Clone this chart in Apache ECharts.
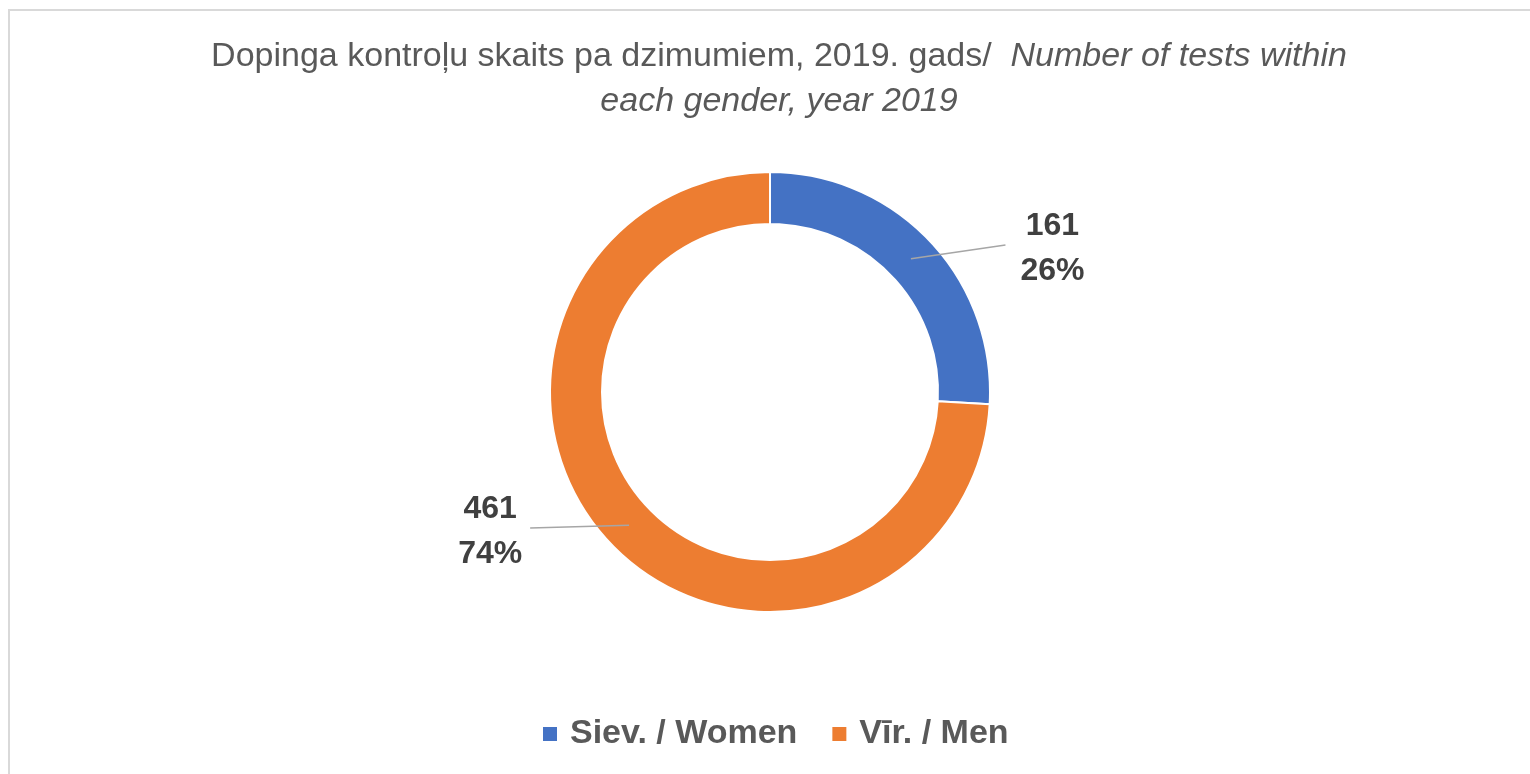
<!DOCTYPE html>
<html>
<head>
<meta charset="utf-8">
<script src="https://cdn.jsdelivr.net/npm/echarts@6/dist/echarts.min.js"></script>
<style>
  html, body { margin: 0; padding: 0; background: #fff; }
  #chart { position: absolute; left: 0; top: 0; width: 1530px; height: 774px; }
  /* frame of the original chart area */
  #frame { position: absolute; left: 8px; top: 9px; width: 1560px; height: 800px;
           border-top: 2px solid #d9d9d9; border-left: 2px solid #d9d9d9; pointer-events: none; }
</style>
</head>
<body>
<div id="chart"></div>
<div id="frame"></div>
<script>
// data
const categories = ['Siev. / Women', 'Vīr. / Men']
const testCounts = [161, 461]
const colors = ['#4472C4', '#ED7D31']

// per slice label line tweaks (women go up-right, men almost flat to the left)
const lineLen = [20, 4]
const lineLen2 = [80, 96]
const labelGap = [15, 8]

const font = 'Liberation Sans, Arial, sans-serif'

const ringData = categories.map((name, i) => ({
    name: name,
    value: testCounts[i],
    itemStyle: { color: colors[i] }
}))

const labelData = categories.map((name, i) => ({
    name: name,
    value: testCounts[i],
    label: { distanceToLabelLine: labelGap[i] },
    labelLine: { length: lineLen[i], length2: lineLen2[i] }
}))

const chart = echarts.init(document.getElementById('chart'))

const option = {
    animation: false,
    color: colors,
    title: {
        left: 779, // title sits a bit right of the middle
        textAlign: 'center',
        top: 34,
        padding: 0,
        text: '{n|Dopinga kontroļu skaits pa dzimumiem, 2019. gads/  }{i|Number of tests within}\n{i|each gender, year 2019}',
        textStyle: {
            fontWeight: 'normal',
            rich: {
                n: { fontFamily: font, fontSize: 34, fontWeight: 'normal', color: '#595959', lineHeight: 45 },
                i: { fontFamily: font, fontSize: 34, fontWeight: 'normal', color: '#595959', fontStyle: 'italic', lineHeight: 45 }
            }
        }
    },
    legend: {
        left: 543,
        top: 717,
        padding: 0,
        icon: 'rect',
        itemWidth: 14,
        itemHeight: 14,
        itemGap: 35,
        data: categories,
        itemStyle: { borderWidth: 0 },
        textStyle: {
            fontFamily: font,
            fontSize: 34,
            fontWeight: 'bold',
            color: '#595959',
            padding: [0, 0, 0, 8]
        }
    },
    series: [
        {
            // the ring itself
            type: 'pie',
            z: 2,
            center: [770, 392],
            radius: [168, 220],
            startAngle: 90,
            clockwise: true,
            silent: true,
            label: { show: false },
            labelLine: { show: false },
            itemStyle: { borderColor: '#fff', borderWidth: 2 },
            data: ringData
        },
        {
            // invisible pie up to the middle of the ring, only carries the labels
            type: 'pie',
            z: 5,
            center: [770, 392],
            radius: [0, 194],
            startAngle: 90,
            clockwise: true,
            silent: true,
            itemStyle: { color: 'rgba(0,0,0,0)' },
            label: {
                show: true,
                position: 'outside',
                padding: [8, 0, 0, 0],
                formatter: function (p) {
                    return '{a|' + p.value + '}\n{a|' + Math.round(p.percent) + '%}'
                },
                rich: {
                    a: {
                        fontFamily: font,
                        fontSize: 32,
                        fontWeight: 'bold',
                        color: '#404040',
                        width: 64,
                        align: 'center',
                        lineHeight: 45
                    }
                }
            },
            labelLine: {
                show: true,
                lineStyle: { color: '#a6a6a6', width: 1.5 }
            },
            labelLayout: function (p) {
                const pts = p.labelLinePoints
                if (!pts) return {}
                // one straight segment like in the original
                return { labelLinePoints: [pts[0], pts[2], pts[2]] }
            },
            data: labelData
        }
    ]
}

chart.setOption(option)
</script>
</body>
</html>
